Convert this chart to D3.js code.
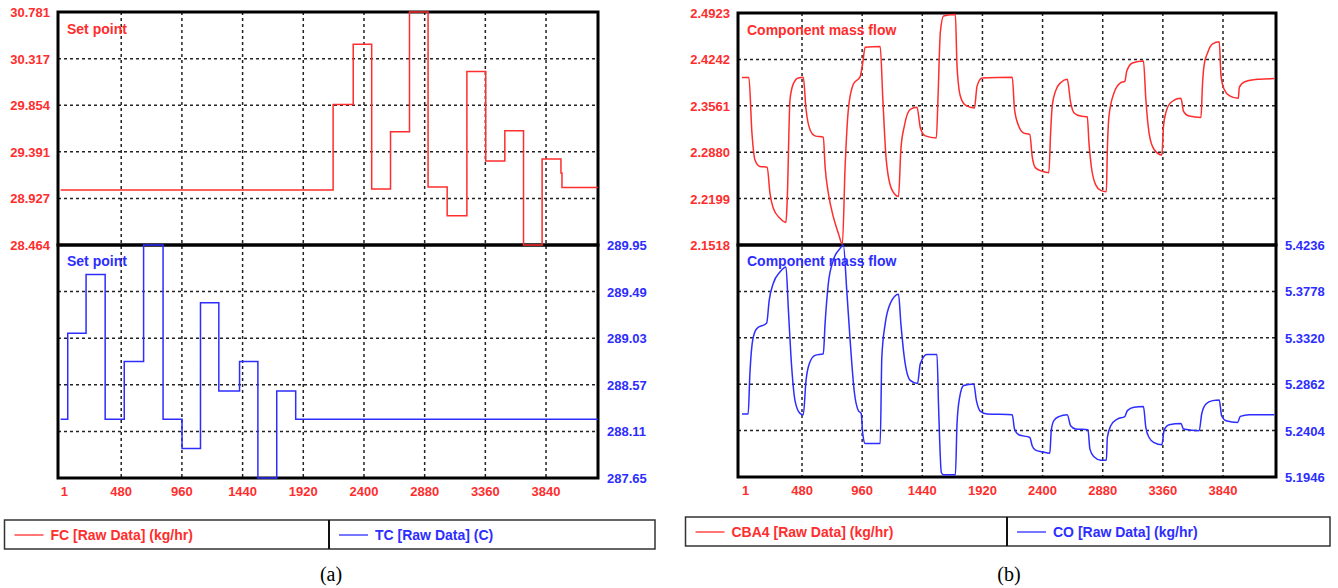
<!DOCTYPE html>
<html>
<head>
<meta charset="utf-8">
<script src="https://cdn.jsdelivr.net/npm/d3@7"></script>
<style>
  body { margin: 0; background: #fff; }
  svg { display: block; }
  .tick-label { font-family: "Liberation Sans", Arial, sans-serif; font-weight: bold; font-size: 13px; }
  .legend-text { font-family: "Liberation Sans", Arial, sans-serif; font-weight: bold; font-size: 14px; }
  .caption { font-family: "Liberation Serif", "Times New Roman", serif; font-size: 20px; }
</style>
</head>
<body>
<svg id="chart" width="1338" height="588"></svg>
<script>
// x ticks (sample index)
var xTicks = [1, 480, 960, 1440, 1920, 2400, 2880, 3360, 3840];

// (a) FC set point, step changes [start sample, value]
var fcTime  = [1, 2156, 2315, 2461, 2610, 2760, 2907, 3058, 3214, 3363, 3514, 3662, 3809, 3958, 3966, 4250];
var fcValue = [29.01, 29.86, 30.46, 29.02, 29.59, 30.781, 29.04, 28.755, 30.19, 29.30, 29.60, 28.464, 29.32, 29.18, 29.035, 29.035];
var fcTicks = ["30.781", "30.317", "29.854", "29.391", "28.927", "28.464"];

// (a) TC set point
var tcTime  = [1, 57, 202, 353, 504, 657, 811, 961, 1107, 1252, 1416, 1561, 1710, 1860, 4250];
var tcValue = [288.23, 289.08, 289.66, 288.23, 288.80, 289.95, 288.23, 287.94, 289.38, 288.51, 288.80, 287.65, 288.51, 288.23, 288.23];
var tcTicks = ["289.95", "289.49", "289.03", "288.57", "288.11", "287.65"];

// (b) CBA4 component mass flow
var cbaTime = [1, 56, 80, 104, 144, 202, 224, 250, 304, 352, 362, 384, 410, 450, 490, 512, 544, 584, 650, 664, 690, 730, 770, 802,
  824, 850, 890, 944, 965, 984, 1104, 1125, 1152, 1197, 1250, 1269, 1296, 1344, 1398, 1424, 1464, 1552, 1565, 1584, 1610, 1704,
  1717, 1744, 1784, 1856, 1877, 1917, 2158, 2176, 2210, 2250, 2298, 2317, 2344, 2397, 2450, 2464, 2477, 2504, 2544, 2597, 2624,
  2650, 2704, 2757, 2770, 2789, 2824, 2864, 2909, 2917, 2930, 2970, 3024, 3056, 3072, 3117, 3205, 3224, 3250, 3290, 3352, 3365,
  3384, 3424, 3504, 3525, 3570, 3664, 3677, 3690, 3717, 3757, 3810, 3824, 3850, 3890, 3962, 3970, 4010, 4117, 4250];
var cbaValue = [2.3975, 2.3975, 2.317, 2.277, 2.267, 2.266, 2.228, 2.206, 2.191, 2.185, 2.218, 2.365, 2.388, 2.397, 2.398, 2.351,
  2.321, 2.312, 2.310, 2.267, 2.228, 2.193, 2.169, 2.153, 2.267, 2.351, 2.388, 2.399, 2.420, 2.442, 2.443, 2.366, 2.277, 2.233,
  2.223, 2.292, 2.326, 2.351, 2.354, 2.324, 2.312, 2.309, 2.366, 2.464, 2.488, 2.490, 2.415, 2.370, 2.357, 2.353, 2.385, 2.397,
  2.398, 2.351, 2.326, 2.316, 2.314, 2.282, 2.265, 2.260, 2.258, 2.316, 2.356, 2.378, 2.390, 2.395, 2.361, 2.346, 2.341, 2.340,
  2.302, 2.267, 2.240, 2.232, 2.230, 2.292, 2.341, 2.375, 2.390, 2.392, 2.407, 2.419, 2.422, 2.366, 2.316, 2.292, 2.284, 2.326,
  2.346, 2.361, 2.367, 2.348, 2.341, 2.339, 2.390, 2.417, 2.434, 2.447, 2.450, 2.400, 2.380, 2.371, 2.367, 2.383, 2.391, 2.395, 2.396];
var cbaTicks = ["2.4923", "2.4242", "2.3561", "2.2880", "2.2199", "2.1518"];

// (b) CO component mass flow
var coTime = [1, 50, 64, 86, 118, 198, 218, 250, 304, 352, 370, 392, 424, 464, 490, 512, 538, 584, 650, 664, 690, 730, 784, 810,
  837, 864, 896, 930, 952, 965, 984, 1104, 1117, 1144, 1184, 1250, 1269, 1296, 1344, 1402, 1424, 1477, 1557, 1570, 1592, 1610,
  1704, 1717, 1738, 1770, 1850, 1872, 1904, 1957, 2158, 2176, 2210, 2298, 2317, 2344, 2397, 2458, 2469, 2490, 2530, 2597, 2624,
  2664, 2762, 2778, 2810, 2864, 2909, 2917, 2944, 2997, 3056, 3077, 3130, 3205, 3224, 3250, 3290, 3352, 3370, 3410, 3504, 3525,
  3650, 3670, 3704, 3757, 3810, 3829, 3864, 3957, 3978, 4050, 4250];
var coValue = [5.2568, 5.2568, 5.2965, 5.3295, 5.341, 5.3466, 5.369, 5.3856, 5.397, 5.402, 5.3625, 5.313, 5.270, 5.2574, 5.256,
  5.290, 5.3064, 5.3146, 5.3163, 5.346, 5.3856, 5.4087, 5.4203, 5.4236, 5.379, 5.3295, 5.280, 5.260, 5.2574, 5.237, 5.2277, 5.2277,
  5.313, 5.346, 5.3658, 5.3750, 5.346, 5.313, 5.290, 5.287, 5.3064, 5.3156, 5.3156, 5.2633, 5.199, 5.1967, 5.1967, 5.247, 5.2733,
  5.2849, 5.2865, 5.270, 5.2594, 5.2568, 5.2561, 5.242, 5.2363, 5.2336, 5.2254, 5.2211, 5.2195, 5.2181, 5.2403, 5.2502, 5.2542,
  5.2561, 5.2452, 5.242, 5.2413, 5.2221, 5.2145, 5.2112, 5.2112, 5.2336, 5.2452, 5.2518, 5.2542, 5.2601, 5.2634, 5.2641, 5.2435,
  5.2336, 5.2286, 5.2264, 5.2409, 5.2462, 5.2475, 5.242, 5.2403, 5.2568, 5.2667, 5.270, 5.2707, 5.255, 5.2502, 5.2485, 5.2544,
  5.2561, 5.2561];
var coTicks = ["5.4236", "5.3778", "5.3320", "5.2862", "5.2404", "5.1946"];

var RED = "#ff2d2d", BLUE = "#2d2dff";

var svg = d3.select("#chart");

function zip(t, v) {
    return t.map(function (d, i) { return { t: d, v: v[i] }; });
}

// one panel = two stacked plots sharing an x axis
function drawPanel(p) {
    var x = d3.scaleLinear().domain(p.xDomain).range([p.left, p.right]);
    var yTop = d3.scaleLinear().domain([+p.topTicks[5], +p.topTicks[0]]).range([p.mid, p.top]);
    var yBot = d3.scaleLinear().domain([+p.botTicks[5], +p.botTicks[0]]).range([p.bottom, p.mid]);

    var g = svg.append("g");

    // dotted grid
    var grid = g.append("g").attr("stroke", "#222").attr("stroke-width", 1.5).attr("stroke-dasharray", "3,3");
    xTicks.slice(1).forEach(function (t) {
        grid.append("line").attr("x1", x(t)).attr("x2", x(t)).attr("y1", p.top).attr("y2", p.bottom);
    });
    p.topTicks.slice(1, 5).forEach(function (t) {
        grid.append("line").attr("x1", p.left).attr("x2", p.right).attr("y1", yTop(+t)).attr("y2", yTop(+t));
    });
    p.botTicks.slice(1, 5).forEach(function (t) {
        grid.append("line").attr("x1", p.left).attr("x2", p.right).attr("y1", yBot(+t)).attr("y2", yBot(+t));
    });

    // thick frames
    g.append("rect").attr("x", p.left).attr("y", p.top).attr("width", p.right - p.left).attr("height", p.mid - p.top)
        .attr("fill", "none").attr("stroke", "#000").attr("stroke-width", 3);
    g.append("rect").attr("x", p.left).attr("y", p.mid).attr("width", p.right - p.left).attr("height", p.bottom - p.mid)
        .attr("fill", "none").attr("stroke", "#000").attr("stroke-width", 3);

    // left axis labels (top plot)
    g.append("g").selectAll("text").data(p.topTicks).enter().append("text")
        .attr("class", "tick-label")
        .attr("x", p.left - 8).attr("y", function (d) { return yTop(+d) + 5; })
        .attr("text-anchor", "end").attr("fill", RED)
        .text(function (d) { return d; });

    // right axis labels (bottom plot)
    g.append("g").selectAll("text").data(p.botTicks).enter().append("text")
        .attr("class", "tick-label")
        .attr("x", p.right + 9).attr("y", function (d) { return yBot(+d) + 5; })
        .attr("text-anchor", "start").attr("fill", BLUE)
        .text(function (d) { return d; });

    // x labels
    g.append("g").selectAll("text").data(xTicks).enter().append("text")
        .attr("class", "tick-label")
        .attr("x", function (d) { return x(d); }).attr("y", p.bottom + 18)
        .attr("text-anchor", function (d, i) { return i === 0 ? "start" : "middle"; })
        .attr("fill", RED)
        .text(function (d) { return d; });

    // plot titles
    g.append("text").attr("class", "tick-label").style("font-size", "14px")
        .attr("x", p.left + 9).attr("y", p.top + 22).attr("fill", RED).text(p.title);
    g.append("text").attr("class", "tick-label").style("font-size", "14px")
        .attr("x", p.left + 9).attr("y", p.mid + 21).attr("fill", BLUE).text(p.title);

    // series
    var curve = p.step ? d3.curveStepAfter : d3.curveMonotoneX;
    g.append("path").datum(p.topData)
        .attr("fill", "none").attr("stroke", RED).attr("stroke-width", 1.5)
        .attr("d", d3.line().curve(curve).x(function (d) { return x(d.t); }).y(function (d) { return yTop(d.v); }));
    g.append("path").datum(p.botData)
        .attr("fill", "none").attr("stroke", BLUE).attr("stroke-width", 1.5)
        .attr("d", d3.line().curve(curve).x(function (d) { return x(d.t); }).y(function (d) { return yBot(d.v); }));

    // legend box
    var lg = g.append("g");
    lg.append("rect").attr("x", p.legend.x0).attr("y", p.legend.y).attr("width", p.legend.x1 - p.legend.x0).attr("height", 29)
        .attr("fill", "none").attr("stroke", "#333").attr("stroke-width", 1.5);
    lg.append("line").attr("x1", p.legend.xm).attr("x2", p.legend.xm).attr("y1", p.legend.y).attr("y2", p.legend.y + 29)
        .attr("stroke", "#111").attr("stroke-width", 2);
    [[p.legend.x0, RED, p.names[0]], [p.legend.xm, BLUE, p.names[1]]].forEach(function (item) {
        lg.append("line").attr("x1", item[0] + 10).attr("x2", item[0] + 39)
            .attr("y1", p.legend.y + 15).attr("y2", p.legend.y + 15)
            .attr("stroke", item[1]).attr("stroke-width", 1.3);
        lg.append("text").attr("class", "legend-text")
            .attr("x", item[0] + 46).attr("y", p.legend.y + 20)
            .attr("fill", item[1]).text(item[2]);
    });

    svg.append("text").attr("class", "caption").attr("x", p.legend.xm + 2).attr("y", 581)
        .attr("text-anchor", "middle").text(p.caption);
}

drawPanel({
    left: 58, right: 598, top: 12, mid: 245, bottom: 478,
    xDomain: [-20, 4251],
    topTicks: fcTicks, botTicks: tcTicks,
    topData: zip(fcTime, fcValue), botData: zip(tcTime, tcValue),
    step: true, title: "Set point",
    names: ["FC [Raw Data] (kg/hr)", "TC [Raw Data] (C)"],
    legend: { x0: 4.5, xm: 329, x1: 655, y: 520 },
    caption: "(a)"
});

drawPanel({
    left: 738, right: 1276, top: 13, mid: 245, bottom: 477,
    xDomain: [-31, 4263],
    topTicks: cbaTicks, botTicks: coTicks,
    topData: zip(cbaTime, cbaValue), botData: zip(coTime, coValue),
    step: false, title: "Component mass flow",
    names: ["CBA4 [Raw Data] (kg/hr)", "CO [Raw Data] (kg/hr)"],
    legend: { x0: 685.5, xm: 1007, x1: 1330, y: 517 },
    caption: "(b)"
});
</script>
</body>
</html>
